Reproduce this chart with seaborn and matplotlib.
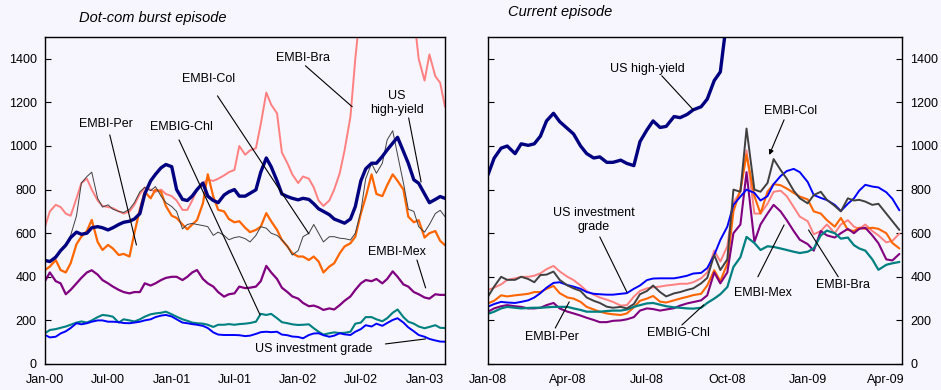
import pandas as pd
import matplotlib
matplotlib.use("Agg")
import matplotlib.pyplot as plt
import matplotlib.dates as mdates
import seaborn as sns

sns.set_theme(style="white")
plt.rcParams["font.family"] = ["Liberation Sans", "DejaVu Sans"]

BG = "#F7F5FD"

# ---------------------------------------------------------------------------
# Spreads (basis points), dot-com burst episode: semi-monthly, Jan-2000 .. Mar-2003
# ---------------------------------------------------------------------------
dot_dates = pd.date_range("2000-01-01", "2003-03-01", freq="SMS")

dot_us_high_yield = [
    475, 470, 490, 520, 545, 580, 605, 595, 600, 625,
    630, 625, 615, 625, 640, 650, 655, 665, 690, 780,
    840, 870, 900, 915, 905, 800, 755, 750, 770, 800,
    830, 770, 750, 740, 775, 790, 800, 770, 770, 783,
    799, 880, 945, 905, 840, 780, 768, 760, 753, 760,
    755, 735, 712, 700, 685, 665, 655, 646, 665, 722,
    840, 895, 921, 921, 952, 982, 1013, 1040, 975, 921,
    845, 829, 780, 740, 755, 768, 760]
dot_embi_bra = [
    630, 700, 730, 720, 690, 680, 760, 830, 850, 800,
    750, 725, 720, 715, 700, 690, 700, 730, 780, 810,
    800, 790, 800, 780, 770, 750, 707, 707, 750, 800,
    830, 845, 840, 850, 865, 880, 890, 1000, 960, 980,
    990, 1100, 1245, 1190, 1150, 970, 921, 870, 830, 860,
    850, 810, 750, 725, 750, 800, 875, 980, 1135, 1400,
    1650, 1900, 2050, 2200, 2150, 2300, 2200, 2000, 1900, 1750,
    1600, 1400, 1300, 1420, 1320, 1290, 1180]
dot_embi_col = [
    475, 470, 495, 520, 550, 590, 680, 830, 860, 880,
    760, 720, 730, 710, 700, 695, 710, 740, 790, 810,
    795, 814, 770, 740, 722, 700, 620, 640, 645, 640,
    635, 630, 590, 605, 590, 570, 580, 584, 575, 560,
    590, 630, 623, 600, 590, 570, 540, 500, 520, 584,
    600, 640, 600, 560, 584, 584, 577, 575, 569, 600,
    700, 850, 920, 875, 921, 1028, 1070, 960, 830, 710,
    700, 630, 605, 640, 690, 705, 676]
dot_embi_per = [
    431, 447, 477, 431, 420, 462, 550, 584, 610, 661,
    560, 523, 546, 530, 500, 505, 493, 600, 710, 790,
    760, 800, 790, 725, 680, 670, 640, 618, 640, 660,
    737, 870, 768, 707, 700, 665, 650, 655, 625, 605,
    615, 630, 692, 655, 615, 569, 539, 508, 493, 493,
    477, 493, 470, 420, 447, 462, 508, 539, 554, 584,
    690, 765, 870, 780, 770, 820, 870, 840, 800, 676,
    650, 660, 580, 600, 610, 565, 545]
dot_embi_mex = [
    380, 420, 380, 370, 320, 340, 370, 395, 420, 430,
    410, 385, 370, 355, 340, 330, 324, 330, 330, 370,
    360, 370, 385, 395, 400, 400, 385, 400, 420, 431,
    390, 370, 355, 330, 309, 320, 324, 355, 348, 350,
    355, 380, 450, 420, 390, 350, 330, 310, 300, 280,
    265, 268, 260, 248, 255, 250, 270, 290, 310, 340,
    370, 385, 380, 390, 370, 390, 425, 400, 365, 355,
    330, 320, 305, 300, 320, 317, 317]
dot_embig_chl = [
    141, 156, 160, 166, 172, 180, 190, 195, 190, 200,
    215, 225, 222, 217, 190, 205, 200, 195, 205, 217,
    228, 232, 235, 240, 228, 217, 205, 198, 190, 187,
    185, 180, 170, 180, 180, 183, 180, 183, 185, 188,
    194, 230, 225, 230, 210, 192, 187, 182, 179, 180,
    182, 164, 148, 135, 141, 145, 142, 143, 148, 185,
    190, 215, 215, 205, 196, 210, 235, 250, 215, 194,
    185, 172, 164, 170, 178, 166, 165]
dot_us_inv_grade = [
    133, 122, 125, 140, 150, 165, 187, 182, 187, 194,
    200, 200, 194, 194, 192, 188, 187, 190, 194, 200,
    205, 215, 222, 225, 218, 205, 190, 187, 183, 180,
    175, 165, 145, 135, 133, 133, 133, 132, 128, 130,
    138, 146, 148, 146, 148, 135, 132, 126, 124, 118,
    133, 140, 141, 132, 125, 130, 141, 136, 133, 148,
    160, 178, 172, 185, 175, 188, 202, 210, 190, 168,
    150, 133, 125, 115, 108, 103, 102]

# ---------------------------------------------------------------------------
# Spreads (basis points), current episode: roughly weekly, Jan-2008 .. Apr-2009
# ---------------------------------------------------------------------------
cur_months = [(2008, m) for m in range(1, 13)] + [(2009, m) for m in range(1, 5)]
cur_dates = pd.DatetimeIndex(
    [pd.Timestamp(y, m, d) for y, m in cur_months for d in (1, 8, 16, 23)])[:63]

cur_us_high_yield = [
    868, 944, 990, 1000, 965, 1010, 1003, 1010, 1045, 1115,
    1150, 1112, 1080, 1055, 1000, 965, 945, 950, 925, 925,
    935, 920, 910, 1020, 1074, 1115, 1085, 1090, 1135, 1130,
    1145, 1166, 1180, 1215, 1300, 1340, 1600, 1750, 1900, 1950,
    1950, 1900, 1850, 1900, 1950, 1850, 1800, 1750, 1800, 1750,
    1700, 1750, 1750, 1700, 1700, 1650, 1700, 1650, 1600, 1600,
    1600, 1580, 1550]
cur_us_inv_grade = [
    263, 275, 285, 282, 280, 285, 292, 305, 325, 350,
    372, 375, 362, 355, 345, 330, 322, 320, 318, 318,
    322, 325, 345, 360, 385, 392, 393, 393, 393, 398,
    405, 415, 418, 440, 500, 569, 630, 730, 768, 800,
    785, 750, 770, 825, 862, 885, 895, 880, 835, 775,
    762, 752, 730, 702, 735, 760, 795, 822, 814, 810,
    788, 758, 705]
cur_embi_col = [
    309, 355, 400, 386, 386, 400, 390, 375, 408, 410,
    424, 386, 360, 347, 335, 305, 290, 280, 263, 258,
    262, 255, 275, 320, 335, 360, 330, 310, 324, 330,
    340, 347, 370, 395, 500, 431, 480, 800, 790, 1080,
    800, 790, 830, 940, 890, 850, 795, 760, 737, 775,
    790, 753, 725, 700, 760, 750, 753, 745, 730, 735,
    690, 655, 615]
cur_embi_bra = [
    340, 350, 365, 386, 393, 400, 400, 405, 416, 435,
    450, 425, 400, 385, 360, 335, 318, 305, 295, 285,
    268, 270, 309, 335, 347, 352, 355, 360, 364, 368,
    368, 375, 393, 420, 520, 470, 540, 740, 790, 980,
    690, 690, 735, 790, 795, 770, 720, 676, 655, 595,
    610, 640, 600, 640, 660, 630, 620, 640, 610, 590,
    558, 565, 598]
cur_embi_per = [
    278, 290, 315, 310, 315, 318, 322, 330, 330, 345,
    358, 325, 305, 300, 285, 262, 250, 240, 232, 228,
    225, 232, 260, 290, 300, 312, 286, 282, 292, 300,
    308, 316, 322, 360, 430, 380, 460, 700, 800, 960,
    770, 690, 790, 825, 820, 805, 785, 768, 755, 700,
    690, 660, 630, 670, 615, 610, 625, 620, 625, 620,
    600, 555, 530]
cur_embi_mex = [
    240, 255, 265, 270, 265, 262, 255, 255, 258, 270,
    280, 255, 240, 232, 222, 212, 202, 192, 192, 198,
    200, 205, 215, 245, 255, 252, 245, 250, 256, 268,
    278, 284, 292, 315, 420, 370, 420, 600, 640, 880,
    560, 640, 690, 730, 700, 660, 610, 570, 550, 520,
    610, 590, 580, 600, 620, 600, 620, 625, 590, 554,
    480, 475, 505]
cur_embig_chl = [
    230, 240, 255, 262, 258, 255, 257, 258, 258, 260,
    262, 262, 262, 255, 248, 240, 240, 240, 243, 245,
    245, 250, 262, 270, 278, 280, 272, 265, 260, 258,
    255, 254, 258, 280, 300, 320, 353, 445, 490, 583,
    555, 523, 540, 537, 530, 523, 515, 509, 515, 530,
    590, 612, 600, 575, 580, 545, 530, 520, 480, 432,
    455, 462, 468]

# drawing order (back to front), colours and widths
ORDER = ["EMBI-Bra", "EMBI-Per", "EMBI-Mex", "EMBIG-Chl",
         "US investment grade", "EMBI-Col", "US high-yield"]
COLORS = {
    "EMBI-Bra": "#FF8080",
    "EMBI-Per": "#FF6600",
    "EMBI-Mex": "#800080",
    "EMBIG-Chl": "#008080",
    "US investment grade": "#0000FF",
    "EMBI-Col": "#404040",
    "US high-yield": "#000080",
}
WIDTHS_DOT = {"EMBI-Bra": 1.4, "EMBI-Per": 1.6, "EMBI-Mex": 1.6, "EMBIG-Chl": 1.5,
              "US investment grade": 1.4, "EMBI-Col": 0.7, "US high-yield": 2.4}
WIDTHS_CUR = {"EMBI-Bra": 1.4, "EMBI-Per": 1.5, "EMBI-Mex": 1.5, "EMBIG-Chl": 1.6,
              "US investment grade": 1.4, "EMBI-Col": 1.4, "US high-yield": 2.4}

dot_series = {
    "EMBI-Bra": dot_embi_bra, "EMBI-Per": dot_embi_per, "EMBI-Mex": dot_embi_mex,
    "EMBIG-Chl": dot_embig_chl, "US investment grade": dot_us_inv_grade,
    "EMBI-Col": dot_embi_col, "US high-yield": dot_us_high_yield,
}
cur_series = {
    "EMBI-Bra": cur_embi_bra, "EMBI-Per": cur_embi_per, "EMBI-Mex": cur_embi_mex,
    "EMBIG-Chl": cur_embig_chl, "US investment grade": cur_us_inv_grade,
    "EMBI-Col": cur_embi_col, "US high-yield": cur_us_high_yield,
}


def long_frame(dates, series):
    parts = [pd.DataFrame({"date": dates, "spread": vals, "series": name})
             for name, vals in series.items()]
    return pd.concat(parts, ignore_index=True)


def draw_lines(ax, frame, widths):
    for name in ORDER:
        sub = frame[frame["series"] == name]
        sns.lineplot(data=sub, x="date", y="spread", ax=ax, color=COLORS[name],
                     linewidth=widths[name], estimator=None, legend=False)


def style_axes(ax):
    ax.set_facecolor(BG)
    for sp in ax.spines.values():
        sp.set_visible(True)
        sp.set_color("black")
        sp.set_linewidth(1.0)
    ax.set_ylim(0, 1500)
    ax.set_yticks(range(0, 1401, 200))
    ax.set_xlabel("")
    ax.set_ylabel("")
    ax.tick_params(axis="x", which="both", direction="out", length=4, width=0.8,
                   color="black", labelsize=9, pad=3, labelcolor="black")
    ax.tick_params(axis="y", which="both", direction="in", length=4, width=0.8,
                   color="black", labelsize=9, pad=6, labelcolor="black")


def note(ax, text, text_at, line_from, line_to, arrow=False):
    ax.text(pd.Timestamp(text_at[0]), text_at[1], text, ha="center", va="center",
            fontsize=9, color="black", linespacing=1.15)
    ax.annotate("", xy=(pd.Timestamp(line_to[0]), line_to[1]),
                xytext=(pd.Timestamp(line_from[0]), line_from[1]),
                arrowprops=dict(arrowstyle="-|>" if arrow else "-", lw=0.8,
                                color="black", shrinkA=0, shrinkB=0,
                                mutation_scale=7))


fig = plt.figure(figsize=(9.41, 3.90), dpi=100, facecolor=BG)
ax1 = fig.add_axes([45 / 941, 26 / 390, 400 / 941, 327 / 390])
ax2 = fig.add_axes([488 / 941, 26 / 390, 414 / 941, 327 / 390])

# left panel
draw_lines(ax1, long_frame(dot_dates, dot_series), WIDTHS_DOT)
style_axes(ax1)
ax1.set_xlim(dot_dates[0], dot_dates[-1])
ax1.xaxis.set_major_locator(mdates.MonthLocator(bymonth=[1, 7]))
ax1.xaxis.set_minor_locator(mdates.MonthLocator(bymonth=[4, 10]))
ax1.xaxis.set_major_formatter(mdates.DateFormatter("%b-%y"))
ax1.tick_params(axis="y", left=True, right=False, labelleft=True, labelright=False)

note(ax1, "EMBI-Bra", ("2002-01-16", 1405), ("2002-01-22", 1368), ("2002-06-06", 1180))
note(ax1, "EMBI-Col", ("2001-04-16", 1308), ("2001-05-13", 1230), ("2002-02-01", 597))
note(ax1, "EMBI-Per", ("2000-06-24", 1102), ("2000-07-06", 1051), ("2000-09-21", 546))
note(ax1, "EMBIG-Chl", ("2001-01-28", 1088), ("2001-01-22", 1028), ("2001-09-13", 225))
note(ax1, "US\nhigh-yield", ("2002-10-13", 1198), ("2002-11-16", 1129), ("2002-12-22", 835))
note(ax1, "EMBI-Mex", ("2002-10-13", 514), ("2002-12-10", 477), ("2003-01-04", 349))
note(ax1, "US investment grade", ("2002-02-16", 69), ("2002-09-10", 92), ("2003-01-04", 115))

# right panel
draw_lines(ax2, long_frame(cur_dates, cur_series), WIDTHS_CUR)
style_axes(ax2)
ax2.set_xlim(cur_dates[0], pd.Timestamp("2009-04-19"))
ax2.xaxis.set_major_locator(mdates.MonthLocator(bymonth=[1, 4, 7, 10]))
ax2.xaxis.set_minor_locator(mdates.MonthLocator())
ax2.xaxis.set_major_formatter(mdates.DateFormatter("%b-%y"))
ax2.tick_params(axis="y", left=True, right=True, labelleft=False, labelright=True)

note(ax2, "US high-yield", ("2008-07-01", 1354), ("2008-07-18", 1322), ("2008-08-23", 1166))
note(ax2, "EMBI-Col", ("2008-12-12", 1161), ("2008-12-05", 1120), ("2008-11-18", 959), arrow=True)
note(ax2, "US investment\ngrade", ("2008-05-01", 661), ("2008-05-08", 583), ("2008-06-08", 330))
note(ax2, "EMBI-Per", ("2008-03-14", 124), ("2008-03-18", 165), ("2008-04-03", 285))
note(ax2, "EMBIG-Chl", ("2008-08-06", 142), ("2008-08-10", 179), ("2008-09-04", 271))
note(ax2, "EMBI-Mex", ("2008-11-11", 326), ("2008-11-05", 400), ("2008-12-05", 638))
note(ax2, "EMBI-Bra", ("2009-02-10", 363), ("2009-02-05", 400), ("2009-01-02", 615))

fig.text(79 / 941, 1 - 22 / 390, "Dot-com burst episode", fontsize=10.5,
         style="italic", color="black", va="baseline", ha="left")
fig.text(508 / 941, 1 - 16 / 390, "Current episode", fontsize=10.5,
         style="italic", color="black", va="baseline", ha="left")

fig.savefig("out.png", dpi=100, facecolor=BG)
